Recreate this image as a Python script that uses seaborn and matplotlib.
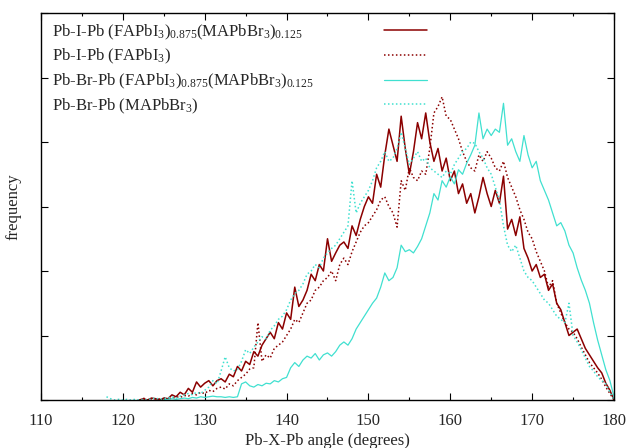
import matplotlib
matplotlib.use("Agg")
import matplotlib.pyplot as plt
import numpy as np
import pandas as pd
import seaborn as sns
from matplotlib.ticker import MultipleLocator, NullFormatter

# -- data (bins every 0.5 degree) --------------------------------------------

STEP = 0.5

I_MIXED_START = 122.0
I_MIXED = [
    0.0, 0.02, 0.0, 0.03, 0.02, 0.0, 0.03, 0.02, 0.08, 0.05,
    0.12, 0.08, 0.18, 0.12, 0.28, 0.2, 0.26, 0.3, 0.22, 0.3,
    0.33, 0.28, 0.4, 0.36, 0.52, 0.45, 0.6, 0.55, 0.75, 0.68,
    0.85, 0.95, 1.05, 0.95, 1.2, 1.1, 1.35, 1.25, 1.75, 1.45,
    1.55, 1.7, 1.95, 1.85, 2.1, 2.0, 2.5, 2.15, 2.28, 2.4,
    2.45, 2.35, 2.7, 2.55, 2.8, 3.0, 3.15, 3.05, 3.5, 3.3,
    3.8, 4.2, 3.95, 3.7, 4.4, 3.9, 3.5, 3.85, 4.3, 4.05,
    4.45, 4.0, 3.7, 3.9, 3.55, 3.75, 3.4, 3.55, 3.2, 3.35,
    3.05, 3.2, 2.9, 3.15, 3.45, 3.2, 3.0, 3.25, 3.05, 3.47,
    2.65, 2.8, 2.55, 2.84, 2.35, 2.2, 2.0, 2.1, 1.9, 1.95,
    1.7, 1.8, 1.5, 1.4, 1.2, 1.0, 1.05, 1.1, 0.95, 0.8,
    0.7, 0.6, 0.5, 0.42, 0.26, 0.15, 0.0,
]

I_FAPBI_START = 122.5
I_FAPBI = [
    0.03, 0.0, 0.02, 0.0, 0.02, 0.0, 0.03, 0.02, 0.05, 0.04,
    0.07, 0.06, 0.1, 0.08, 0.12, 0.1, 0.15, 0.13, 0.18, 0.2,
    0.17, 0.25, 0.22, 0.3, 0.35, 0.4, 0.48, 0.5, 1.2, 0.6,
    0.7, 0.65, 0.8, 0.85, 0.9, 1.0, 1.1, 1.25, 1.2, 1.35,
    1.5, 1.55, 1.7, 1.75, 1.85, 1.9, 2.0, 1.85, 2.1, 2.2,
    2.1, 2.3, 2.45, 2.6, 2.7, 2.75, 2.85, 2.95, 3.1, 3.15,
    3.0, 2.9, 2.68, 3.4, 3.25, 3.6, 3.45, 3.4, 3.55, 3.5,
    3.9, 4.45, 4.55, 4.7, 4.4, 4.35, 4.2, 4.05, 3.85, 3.7,
    3.6, 3.55, 3.8, 3.7, 3.85, 3.75, 3.6, 3.55, 3.7, 3.45,
    3.3, 3.15, 2.95, 2.8, 2.6, 2.5, 2.3, 2.15, 2.0, 1.75,
    1.85, 1.5, 1.35, 1.2, 1.1, 1.05, 0.95, 0.82, 0.7, 0.58,
    0.5, 0.42, 0.32, 0.2, 0.1, 0.0,
]

BR_MIXED_START = 125.0
BR_MIXED = [
    0.0, 0.01, 0.02, 0.01, 0.02, 0.03, 0.02, 0.04, 0.03, 0.05,
    0.04, 0.05, 0.06, 0.05, 0.05, 0.04, 0.05, 0.04, 0.05, 0.25,
    0.28, 0.22, 0.2, 0.24, 0.22, 0.26, 0.25, 0.3, 0.28, 0.33,
    0.35, 0.5, 0.58, 0.52, 0.62, 0.68, 0.65, 0.72, 0.62, 0.7,
    0.73, 0.68, 0.75, 0.85, 0.9, 0.85, 0.95, 1.1, 1.2, 1.3,
    1.4, 1.5, 1.58, 1.75, 1.97, 1.85, 1.9, 2.05, 2.4, 2.3,
    2.33, 2.28, 2.38, 2.5, 2.7, 2.9, 3.2, 3.1, 3.4, 3.3,
    3.46, 3.35, 3.57, 3.5, 3.67, 3.8, 3.95, 4.45, 4.05, 4.2,
    4.1, 4.2, 4.15, 4.6, 3.95, 4.05, 3.85, 3.7, 4.1, 3.8,
    3.6, 3.7, 3.4, 3.25, 3.1, 2.9, 2.7, 2.75, 2.62, 2.4,
    2.28, 2.05, 1.86, 1.7, 1.5, 1.2, 0.93, 0.7, 0.47, 0.3,
    0.05,
]

BR_MAPBBR_START = 118.0
BR_MAPBBR = [
    0.05, 0.02, 0.0, 0.01, 0.0, 0.01, 0.0, 0.01, 0.0, 0.01,
    0.0, 0.02, 0.03, 0.01, 0.02, 0.03, 0.05, 0.03, 0.06, 0.08,
    0.1, 0.08, 0.12, 0.1, 0.15, 0.2, 0.3, 0.25, 0.45, 0.67,
    0.5, 0.45, 0.47, 0.6, 0.78, 0.72, 0.82, 0.9, 0.98, 0.95,
    1.08, 1.15, 1.25, 1.3, 1.4, 1.55, 1.65, 1.7, 1.8, 1.95,
    2.0, 2.1, 2.05, 2.2, 2.28, 2.35, 2.4, 2.5, 2.6, 2.7,
    3.4, 2.9, 3.05, 3.15, 3.25, 3.4, 3.6, 3.7, 3.85, 3.7,
    3.75, 3.9, 4.15, 3.9, 3.65, 3.75, 3.85, 3.7, 3.75, 3.6,
    3.55, 3.5, 3.45, 3.55, 3.5, 3.65, 3.75, 3.85, 3.9, 4.0,
    3.98, 3.85, 3.75, 3.6, 3.5, 3.3, 3.1, 2.7, 2.4, 2.3,
    2.4, 2.2, 2.0, 1.9, 1.85, 1.75, 1.65, 1.55, 1.5, 1.4,
    1.3, 1.25, 1.2, 1.5, 1.0, 0.9, 0.78, 0.65, 0.52, 0.45,
    0.36, 0.3, 0.25, 0.12, 0.0,
]

LABELS = [
    r"Pb-I-Pb (FAPbI$_3$)$_{0.875}$(MAPbBr$_3$)$_{0.125}$",
    r"Pb-I-Pb (FAPbI$_3$)",
    r"Pb-Br-Pb (FAPbI$_3$)$_{0.875}$(MAPbBr$_3$)$_{0.125}$",
    r"Pb-Br-Pb (MAPbBr$_3$)",
]

# -- style -------------------------------------------------------------------

DARK_RED = "#8b0000"
TURQUOISE = "#40e0d0"
DOTTED = (0, (1.0, 1.6))

SERIES = [
    (I_MIXED_START, I_MIXED, DARK_RED, "-", 1.1),
    (I_FAPBI_START, I_FAPBI, DARK_RED, DOTTED, 1.1),
    (BR_MIXED_START, BR_MIXED, TURQUOISE, "-", 0.9),
    (BR_MAPBBR_START, BR_MAPBBR, TURQUOISE, DOTTED, 1.1),
]

sns.set_style("ticks")
plt.rcParams.update(
    {
        "font.family": ["Liberation Serif", "DejaVu Serif"],
        "mathtext.fontset": "custom",
        "mathtext.rm": "Liberation Serif",
        "mathtext.it": "Liberation Serif:italic",
        "font.size": 12,
    }
)


def build_frame(start, values):
    angle = start + STEP * np.arange(len(values))
    return pd.DataFrame({"angle": angle, "freq": values})


def main():
    fig = plt.figure(figsize=(6.29, 4.48), dpi=100)
    ax = fig.add_axes([41 / 629, 1 - 400 / 448, 573 / 629, 387 / 448])

    for (start, values, color, ls, lw), label in zip(SERIES, LABELS):
        sns.lineplot(
            data=build_frame(start, values),
            x="angle",
            y="freq",
            color=color,
            linestyle=ls,
            linewidth=lw,
            estimator=None,
            label=label,
            ax=ax,
        )

    ax.set_xlim(110, 180)
    ax.set_ylim(0, 6)
    ax.xaxis.set_major_locator(MultipleLocator(10))
    ax.xaxis.set_minor_locator(MultipleLocator(5))
    ax.yaxis.set_major_locator(MultipleLocator(1))
    ax.yaxis.set_major_formatter(NullFormatter())
    ax.tick_params(
        which="both", direction="in", top=True, right=True,
        color="black", width=0.8,
    )
    ax.tick_params(which="major", length=5, labelsize=12, pad=9)
    ax.tick_params(which="minor", length=2.5)
    for spine in ax.spines.values():
        spine.set_linewidth(1.0)
        spine.set_color("black")

    ax.set_xlabel("Pb-X-Pb angle (degrees)", fontsize=12)
    ax.xaxis.set_label_coords(0.5, -0.084)
    ax.set_ylabel("frequency", fontsize=12)
    ax.yaxis.set_label_coords(-0.034, 0.5)

    leg = ax.legend(
        loc="upper left",
        bbox_to_anchor=(0.019, 0.976),
        frameon=False,
        markerfirst=False,
        borderpad=0,
        borderaxespad=0,
        handlelength=2.6,
        labelspacing=0.33,
        fontsize=12,
    )
    # gnuplot-style key: text flush left, sample flush right
    for col in leg._legend_handle_box.get_children():
        for row in col.get_children():
            row.mode = "expand"
            row.width = 375

    fig.savefig("out.png", dpi=100)


if __name__ == "__main__":
    main()
